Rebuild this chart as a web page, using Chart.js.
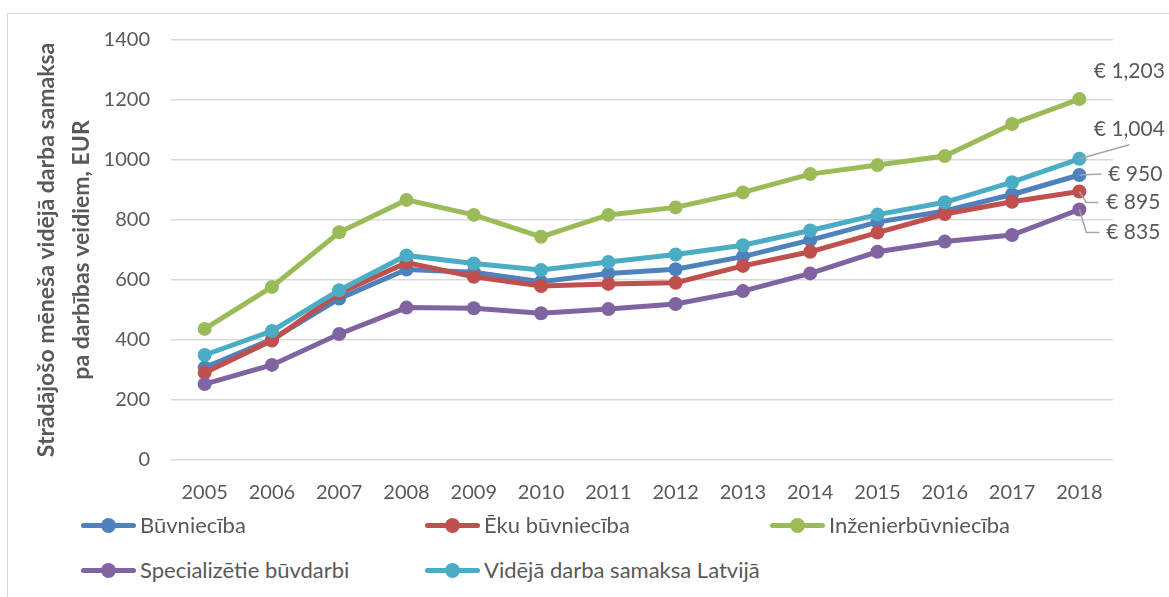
<!DOCTYPE html>
<html>
<head>
<meta charset="utf-8">
<script src="https://cdn.jsdelivr.net/npm/chart.js@4.4.1/dist/chart.umd.min.js"></script>
<style>
	body { margin: 0; background: #fff; font-family: Lato, "Open Sans", sans-serif; }
	#wrap { position: relative; width: 1169px; height: 597px; overflow: hidden; }
	#frame { position: absolute; left: 7px; top: 13px; width: 1200px; height: 700px; border: 1px solid #d9d9d9; }
	#chartBox { position: absolute; left: 0; top: 0; width: 1169px; height: 522px; }
	.legend-item { position: absolute; height: 26px; line-height: 26px; font-size: 22px; color: #595959; white-space: nowrap; }
	.legend-item .mark { position: absolute; left: 0; top: 11px; width: 55px; height: 5px; border-radius: 3px; }
	.legend-item .mark::after { content: ""; position: absolute; left: 20px; top: -5px; width: 15px; height: 15px; border-radius: 50%; background: inherit; }
	.legend-item .txt { position: absolute; left: 59px; top: 0; }
</style>
</head>
<body>
<div id="wrap">
	<div id="frame"></div>
	<div id="chartBox"><canvas id="wageChart"></canvas></div>
	<div id="legend"></div>
</div>
<script>
// Data
const years = ["2005", "2006", "2007", "2008", "2009", "2010", "2011", "2012", "2013", "2014", "2015", "2016", "2017", "2018"];
const buvnieciba = [308, 402, 538, 635, 626, 594, 622, 636, 678, 733, 793, 830, 885, 950];
const ekuBuvnieciba = [291, 398, 556, 658, 611, 580, 587, 591, 647, 694, 758, 820, 861, 895];
const inzenierbuvnieciba = [437, 577, 759, 867, 817, 744, 817, 842, 892, 953, 983, 1013, 1120, 1203];
const specializetie = [253, 317, 420, 508, 506, 489, 503, 520, 563, 622, 694, 728, 750, 835];
const videjaLatvija = [350, 430, 566, 682, 655, 633, 660, 685, 716, 765, 818, 859, 926, 1004];
const yTicks = [0, 200, 400, 600, 800, 1000, 1200, 1400];

const seriesInfo = [
	{ label: "Būvniecība", data: buvnieciba, color: "#4F81BD", order: 5 },
	{ label: "Ēku būvniecība", data: ekuBuvnieciba, color: "#C0504D", order: 4 },
	{ label: "Inženierbūvniecība", data: inzenierbuvnieciba, color: "#9BBB59", order: 3 },
	{ label: "Specializētie būvdarbi", data: specializetie, color: "#8064A2", order: 2 },
	{ label: "Vidējā darba samaksa Latvijā", data: videjaLatvija, color: "#4BACC6", order: 1 }
];

// labels at the 2018 points: dataset, text offset, leader line bends (relative to the point)
const endLabels = [
	{ ds: 2, dx: 50, dy: -28, leader: null },
	{ ds: 4, dx: 50, dy: -30, leader: [[50, -14]] },
	{ ds: 0, dx: 56, dy: -1, leader: [[22, -1]] },
	{ ds: 1, dx: 54, dy: 11, leader: [[7, 11], [19, 11]] },
	{ ds: 3, dx: 54, dy: 23, leader: [[7, 23], [20, 23]] }
];

const textColor = "#595959";

const endLabelPlugin = {
	id: "endLabels",
	afterDatasetsDraw(chart) {
		const ctx = chart.ctx;
		ctx.save();
		endLabels.forEach(function (l) {
			const meta = chart.getDatasetMeta(l.ds);
			const last = meta.data.length - 1;
			const pt = meta.data[last];
			const val = chart.data.datasets[l.ds].data[last];
			if (l.leader) {
				ctx.strokeStyle = "#a6a6a6";
				ctx.lineWidth = 1.5;
				ctx.beginPath();
				ctx.moveTo(pt.x, pt.y);
				l.leader.forEach(function (p) { ctx.lineTo(pt.x + p[0], pt.y + p[1]); });
				ctx.stroke();
			}
			ctx.fillStyle = textColor;
			ctx.font = "21px Lato";
			ctx.textAlign = "center";
			ctx.textBaseline = "middle";
			ctx.fillText("€ " + val.toLocaleString("en-US"), pt.x + l.dx, pt.y + l.dy);
		});
		ctx.restore();
	}
};

const ctx = document.getElementById("wageChart").getContext("2d");
new Chart(ctx, {
	type: "line",
	data: {
		labels: years,
		datasets: seriesInfo.map(function (s) {
			return {
				label: s.label,
				data: s.data,
				borderColor: s.color,
				backgroundColor: s.color,
				borderWidth: 5,
				pointRadius: 7,
				pointHoverRadius: 7,
				pointBorderWidth: 0,
				tension: 0,
				order: s.order
			};
		})
	},
	options: {
		responsive: true,
		maintainAspectRatio: false,
		animation: false,
		layout: { padding: { left: 29, right: 56, top: 40, bottom: 4 } },
		plugins: {
			legend: { display: false },
			tooltip: { enabled: false }
		},
		scales: {
			x: {
				offset: true,
				grid: { display: false },
				border: { display: false },
				ticks: { color: textColor, font: { family: "Lato", size: 20 }, padding: 13, maxRotation: 0 }
			},
			y: {
				min: 0,
				max: 1400,
				afterBuildTicks: function (axis) {
					axis.ticks = yTicks.map(function (v) { return { value: v }; });
				},
				afterFit: function (axis) {
					axis.width = 142;
				},
				grid: { color: "#d9d9d9", lineWidth: 1.5, drawTicks: false },
				border: { display: false },
				ticks: {
					color: textColor,
					font: { family: "Lato", size: 20 },
					padding: 21,
					callback: function (v) { return String(v); }
				},
				title: {
					display: true,
					text: ["Strādājošo mēneša vidējā darba samaksa", "pa darbības veidiem, EUR"],
					color: textColor,
					font: { family: "Lato", size: 23, weight: "bold", lineHeight: 1.52 },
					padding: { top: 0, bottom: 4 }
				}
			}
		}
	},
	plugins: [endLabelPlugin]
});

// HTML legend, laid out like the original two-row grid
const legendPos = [[81, 512], [425, 512], [770, 512], [81, 557], [425, 557]];
const legendEl = document.getElementById("legend");
seriesInfo.forEach(function (s, i) {
	const item = document.createElement("div");
	item.className = "legend-item";
	item.style.left = legendPos[i][0] + "px";
	item.style.top = legendPos[i][1] + "px";
	item.innerHTML = '<span class="mark" style="background:' + s.color + '"></span><span class="txt">' + s.label + "</span>";
	legendEl.appendChild(item);
});
</script>
</body>
</html>
